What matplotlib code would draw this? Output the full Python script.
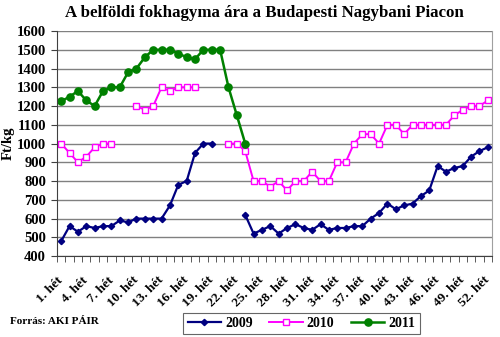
import matplotlib.pyplot as plt
import matplotlib.transforms as mtransforms
import numpy as np

nan = np.nan

weeks = list(range(1, 53))
week_labels = [f"{w}. hét" for w in weeks[::3]]

# weekly prices, Ft/kg (nan = no quote that week)
price_2009 = [480, 560, 530, 560, 550, 560, 560, 590, 580, 600,
              600, 600, 600, 670, 780, 800, 950, 1000, 1000, nan,
              nan, nan, 620, 520, 540, 560, 520, 550, 570, 550,
              540, 570, 540, 550, 550, 560, 560, 600, 630, 680,
              650, 670, 680, 720, 750, 880, 850, 870, 880, 930,
              960, 980]
price_2010 = [1000, 950, 900, 930, 980, 1000, 1000, nan, nan, 1200,
              1180, 1200, 1300, 1280, 1300, 1300, 1300, nan, nan, nan,
              1000, 1000, 960, 800, 800, 770, 800, 750, 800, 800,
              850, 800, 800, 900, 900, 1000, 1050, 1050, 1000, 1100,
              1100, 1050, 1100, 1100, 1100, 1100, 1100, 1150, 1180, 1200,
              1200, 1230]
price_2011 = [1225, 1250, 1280, 1230, 1200, 1280, 1300, 1300, 1380, 1400,
              1460, 1500, 1500, 1500, 1480, 1460, 1450, 1500, 1500, 1500,
              1300, 1150, 1000]

plt.rcParams['font.family'] = ['Liberation Serif', 'DejaVu Serif']

fig = plt.figure(figsize=(5, 3.37), dpi=100)
ax = fig.add_axes([0.114, 0.240, 0.870, 0.668])

x = np.array(weeks)
ax.plot(x, price_2009, color='#000080', marker='D', markersize=3.2,
        linewidth=1.6, label='2009')
ax.plot(x, price_2010, color='#FF00FF', marker='s', markersize=4.8,
        markerfacecolor='white', markeredgewidth=1.0, linewidth=1.4, label='2010')
ax.plot(x[:len(price_2011)], price_2011, color='#008000', marker='o',
        markersize=5.2, linewidth=1.8, label='2011')

ax.set_xlim(0.5, 52.5)
ax.set_ylim(400, 1600)
ax.set_yticks(np.arange(400, 1601, 100))
ax.yaxis.grid(True, color='#808080', linewidth=1.0)
ax.set_axisbelow(True)

# category boundary ticks, labels every third week
ax.set_xticks(np.arange(0.5, 53, 1), minor=True)
ax.set_xticks(x[::3])
ax.set_xticklabels(week_labels, rotation=45, ha='right', rotation_mode='anchor',
                   fontsize=9.5, fontweight='bold')
ax.tick_params(axis='x', which='major', length=0, pad=13)
ax.tick_params(axis='x', which='minor', length=4, color='#404040')
ax.tick_params(axis='y', length=4, color='#404040', labelsize=10.5, pad=4)
for t in ax.get_yticklabels():
    t.set_fontweight('bold')

shift = mtransforms.ScaledTranslation(-3 / 72, 0, fig.dpi_scale_trans)
for t in ax.get_xticklabels():
    t.set_transform(t.get_transform() + shift)

ax.spines['top'].set_visible(False)
ax.spines['right'].set_color('#a0a0a0')
ax.spines['left'].set_color('#404040')
ax.spines['bottom'].set_color('#404040')

ax.set_ylabel('Ft/kg', fontsize=10.5, fontweight='bold')
ax.yaxis.set_label_coords(-0.098, 0.5)

fig.text(0.528, 0.962, 'A belföldi fokhagyma ára a Budapesti Nagybani Piacon',
         ha='center', va='center', fontsize=12.2, fontweight='bold')
fig.text(0.02, 0.045, 'Forrás: AKI PÁIR', ha='left', va='center',
         fontsize=8, fontweight='bold')

leg = fig.legend(loc='center', bbox_to_anchor=(0.603, 0.04), ncol=3,
                 frameon=True, fancybox=False, edgecolor='#404040',
                 prop={'size': 10, 'weight': 'bold'}, handlelength=2.4,
                 handletextpad=0.3, columnspacing=1.2, borderpad=0.3)
leg.get_frame().set_linewidth(0.8)

fig.savefig('out.png', dpi=100)
